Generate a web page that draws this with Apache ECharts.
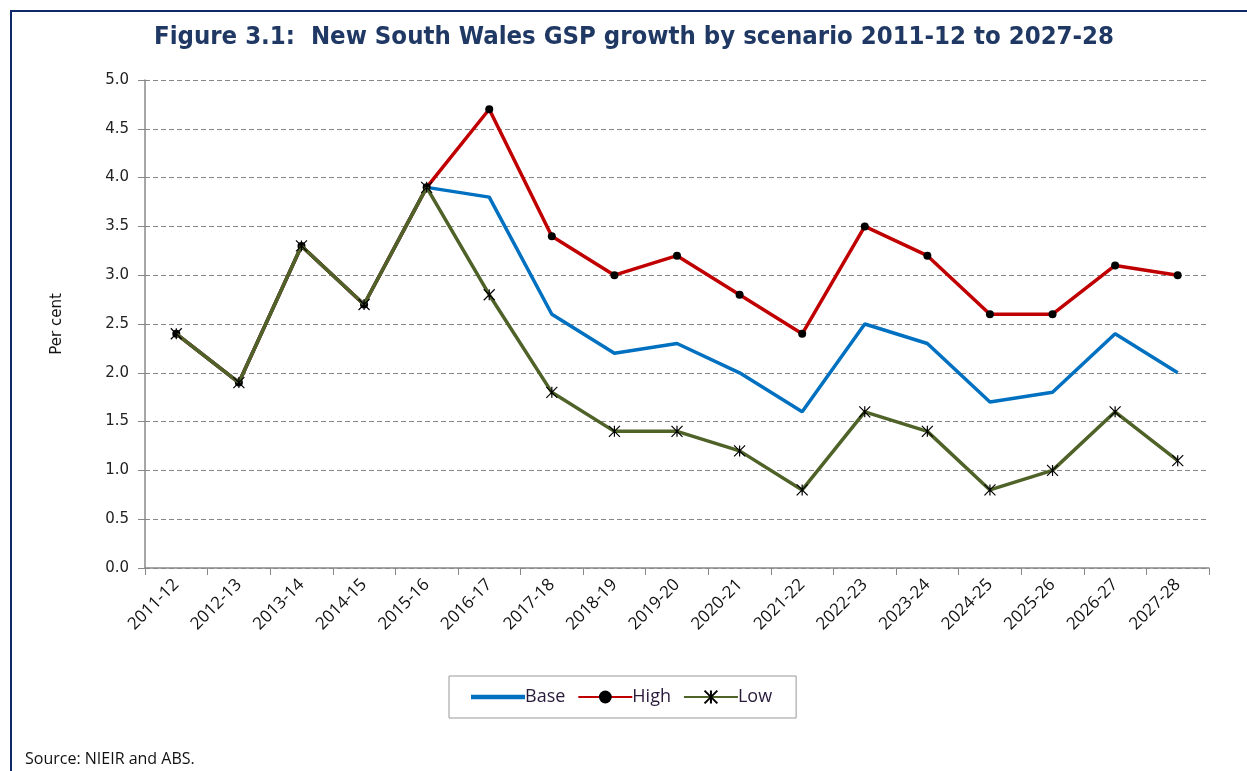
<!DOCTYPE html>
<html>
<head>
<meta charset="utf-8">
<title>NSW GSP growth by scenario</title>
<script src="https://cdn.jsdelivr.net/npm/echarts@6/dist/echarts.min.js"></script>
<style>
  html, body { margin: 0; padding: 0; background: #fff; }
  #chart { width: 1247px; height: 771px; }
</style>
</head>
<body>
<div id="chart"></div>
<script>
// financial years on the x axis
const years = ['2011-12', '2012-13', '2013-14', '2014-15', '2015-16', '2016-17', '2017-18', '2018-19',
  '2019-20', '2020-21', '2021-22', '2022-23', '2023-24', '2024-25', '2025-26', '2026-27', '2027-28'];

// GSP growth, per cent
const baseValues = [2.4, 1.9, 3.3, 2.7, 3.9, 3.8, 2.6, 2.2, 2.3, 2.0, 1.6, 2.5, 2.3, 1.7, 1.8, 2.4, 2.0];
const highValues = [2.4, 1.9, 3.3, 2.7, 3.9, 4.7, 3.4, 3.0, 3.2, 2.8, 2.4, 3.5, 3.2, 2.6, 2.6, 3.1, 3.0];
const lowValues = [2.4, 1.9, 3.3, 2.7, 3.9, 2.8, 1.8, 1.4, 1.4, 1.2, 0.8, 1.6, 1.4, 0.8, 1.0, 1.6, 1.1];

const seriesNames = ['Base', 'High', 'Low'];
const yTicks = { min: 0, max: 5, step: 0.5 };

const myChart = echarts.init(document.getElementById('chart'));

// asterisk marker for the Low series (stroked path)
const asterisk = 'path://M0,0L10,10M10,0L0,10M5,0L5,10';

const option = {
  animation: false,
  backgroundColor: '#fff',
  title: {
    text: 'Figure 3.1:  New South Wales GSP growth by scenario 2011-12 to 2027-28',
    left: 629,
    textAlign: 'center',
    top: 19,
    textStyle: {
      fontFamily: 'DejaVu Sans Condensed',
      fontWeight: 'bold',
      fontSize: 25.5,
      color: '#1f3864'
    }
  },
  graphic: [
    { // navy frame, top and left only
      type: 'polyline',
      shape: { points: [[11, 771], [11, 11], [1247, 11]] },
      style: { stroke: '#0e2a6b', lineWidth: 2, fill: null },
      silent: true
    },
    {
      type: 'text',
      left: 25,
      top: 751,
      style: {
        text: 'Source: NIEIR and ABS.',
        font: '16px "Open Sans"',
        fill: '#111'
      }
    }
  ],
  legend: {
    data: [
      { name: 'Base', icon: 'path://M0,0L50,0L50,4L0,4Z' },
      { name: 'High' },
      { name: 'Low' }
    ],
    left: 449,
    top: 676,
    padding: [12, 24, 12, 22],
    itemGap: 12,
    itemWidth: 54,
    itemHeight: 16,
    borderColor: '#999',
    borderWidth: 1,
    textStyle: { fontFamily: 'Open Sans', fontSize: 18, color: '#2a1a3a', padding: [0, 16, 0, -5] }
  },
  grid: {
    left: 145,
    right: 1247 - 1209,
    top: 80,
    bottom: 771 - 568,
    containLabel: false
  },
  xAxis: {
    type: 'category',
    data: years,
    boundaryGap: true,
    axisLine: { lineStyle: { color: '#888', width: 1.5 } },
    axisTick: { show: true, length: 7, lineStyle: { color: '#888' } },
    axisLabel: {
      rotate: 45,
      margin: 14,
      fontFamily: 'Open Sans',
      fontSize: 17,
      color: '#111'
    }
  },
  yAxis: {
    type: 'value',
    min: yTicks.min,
    max: yTicks.max,
    interval: yTicks.step,
    name: 'Per cent',
    nameLocation: 'middle',
    nameGap: 80,
    nameRotate: 90,
    nameTextStyle: { fontFamily: 'DejaVu Sans', fontSize: 15, color: '#111' },
    axisLine: { show: true, lineStyle: { color: '#888', width: 1.5 } },
    axisTick: { show: true, length: 7, inside: false, lineStyle: { color: '#888' } },
    axisLabel: {
      margin: 16,
      fontFamily: 'DejaVu Sans',
      fontSize: 15,
      color: '#222',
      formatter: v => v.toFixed(1)
    },
    splitLine: { show: true, lineStyle: { color: '#888', type: [5, 3], width: 1 } }
  },
  series: [
    {
      name: 'Base',
      type: 'line',
      data: baseValues,
      symbol: 'none',
      lineStyle: { color: '#0070c0', width: 3.5 },
      itemStyle: { color: '#0070c0' },
      z: 2
    },
    {
      name: 'High',
      type: 'line',
      data: highValues,
      symbol: 'circle',
      symbolSize: 8,
      showAllSymbol: true,
      lineStyle: { color: '#c00000', width: 3.5 },
      itemStyle: { color: '#000' },
      z: 3
    },
    {
      name: 'Low',
      type: 'line',
      data: lowValues,
      symbol: asterisk,
      symbolSize: 11,
      showAllSymbol: true,
      lineStyle: { color: '#4f6228', width: 3.5 },
      itemStyle: { color: '#000', borderColor: '#000', borderWidth: 1.2 },
      z: 4
    }
  ]
};

myChart.setOption(option);
</script>
</body>
</html>
